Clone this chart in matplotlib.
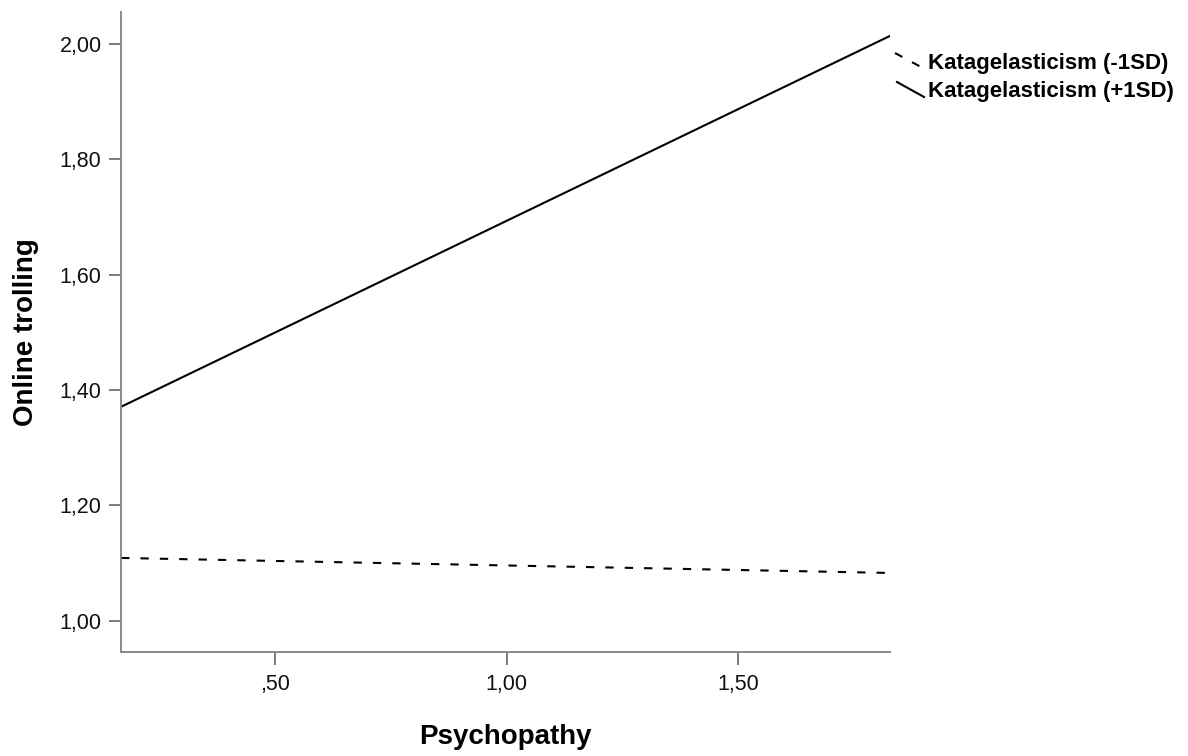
import matplotlib
matplotlib.use("Agg")
import matplotlib.pyplot as plt
from matplotlib.lines import Line2D

# data
psychopathy = [0.167, 1.828]
kat_low = [1.109, 1.083]    # Katagelasticism (-1SD)
kat_high = [1.371, 2.014]   # Katagelasticism (+1SD)

xticks = [0.5, 1.0, 1.5]
xticklabels = [",50", "1,00", "1,50"]
yticks = [1.0, 1.2, 1.4, 1.6, 1.8, 2.0]
yticklabels = ["1,00", "1,20", "1,40", "1,60", "1,80", "2,00"]

plt.rcParams["font.family"] = ["Liberation Sans", "DejaVu Sans"]

fig = plt.figure(figsize=(11.88, 7.56), dpi=100)
ax = fig.add_axes([0.1019, 0.1376, 0.6473, 0.8466])

ax.plot(psychopathy, kat_low, color="black", lw=1.5, linestyle=(0, (4, 5.3)))
ax.plot(psychopathy, kat_high, color="black", lw=1.5)

ax.set_xlim(0.167, 1.828)
ax.set_ylim(0.946, 2.0555)
ax.set_xticks(xticks)
ax.set_xticklabels(xticklabels)
ax.set_yticks(yticks)
ax.set_yticklabels(yticklabels)

for s in ["top", "right"]:
    ax.spines[s].set_visible(False)
for s in ["left", "bottom"]:
    ax.spines[s].set_color("#8a8a8a")
    ax.spines[s].set_linewidth(1.4)
ax.tick_params(axis="both", direction="out", length=9, width=1.2,
               color="#666666", labelsize=15.5, labelcolor="#111111", pad=5)
ax.tick_params(axis="x", pad=7)

ax.set_xlabel("Psychopathy", fontsize=20, fontweight="bold", labelpad=21)
ax.set_ylabel("Online trolling", fontsize=20, fontweight="bold", labelpad=15)

# legend entries at the line ends
W, H = 1188.0, 756.0
def fx(px):
    return px / W
def fy(py):
    return 1 - py / H

fig.add_artist(Line2D([fx(895), fx(921)], [fy(53), fy(67)], color="black",
                      lw=1.5, linestyle=(0, (4, 5.3)), transform=fig.transFigure))
fig.add_artist(Line2D([fx(897), fx(924)], [fy(82), fy(97)], color="black",
                      lw=1.5, transform=fig.transFigure))
fig.text(fx(928), fy(64), "Katagelasticism (-1SD)", fontsize=16,
         fontweight="bold", va="center", ha="left")
fig.text(fx(928), fy(91), "Katagelasticism (+1SD)", fontsize=16,
         fontweight="bold", va="center", ha="left")

fig.savefig("out.png", dpi=100)
